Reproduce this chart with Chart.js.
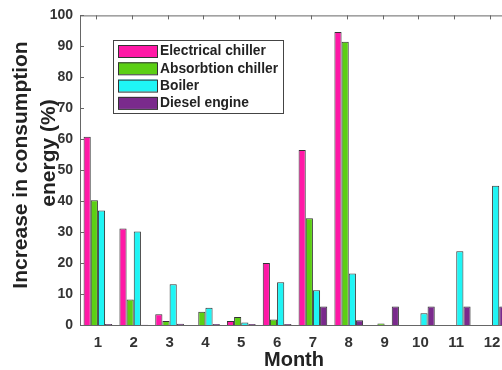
<!DOCTYPE html>
<html>

<head>
    <meta charset="utf-8" />
    <title>Increase in consumption energy</title>
    <script src="https://cdn.jsdelivr.net/npm/chart.js"></script>
    <style>
        html, body { margin: 0; padding: 0; background: #fff; overflow: hidden; }
        #wrap { width: 520px; height: 370px; }
    </style>
</head>

<body>
    <div id="wrap"><canvas id="myChart" width="520" height="370"></canvas></div>

    <script type="text/javascript">

        // chart data
        const months = ["1", "2", "3", "4", "5", "6", "7", "8", "9", "10", "11", "12"];
        const electricalChiller = [60.8, 31.2, 3.5, 0, 1.3, 20, 56.5, 94.6, 0, 0, 0, 0];
        const absorptionChiller = [40.3, 8.2, 1.3, 4.3, 2.6, 1.8, 34.5, 91.5, 0.5, 0, 0, 0];
        const boiler = [37, 30.2, 13.2, 5.6, 0.8, 13.8, 11.2, 16.6, 0, 3.8, 23.8, 45];
        const dieselEngine = [0.3, 0.1, 0.4, 0.3, 0.3, 0.3, 6, 1.5, 6, 6, 6, 6];
        const yTicks = [0, 10, 20, 30, 40, 50, 60, 70, 80, 90, 100];

        const seriesNames = ["Electrical chiller", "Absorbtion chiller", "Boiler", "Diesel engine"];
        const seriesColors = ["#ff18a6", "#5ccf14", "#1ff5f5", "#7a2a8c"];

        const FONT = "Liberation Sans, Arial, sans-serif";
        const INK = "#333333";

        // axis box, inward ticks, axis titles and the boxed legend
        const decorations = {
            id: "decorations",
            afterDatasetsDraw(chart) {
                const { ctx, chartArea: a, scales } = chart;
                ctx.save();
                ctx.strokeStyle = "#666";
                ctx.lineWidth = 1;
                ctx.beginPath();
                ctx.moveTo(a.left + 0.5, a.bottom);
                ctx.lineTo(a.left + 0.5, a.top + 0.5);
                ctx.lineTo(a.right, a.top + 0.5);
                ctx.moveTo(a.left, a.bottom + 0.5);
                ctx.lineTo(a.right, a.bottom + 0.5);
                yTicks.forEach(v => {
                    const y = Math.round(scales.y.getPixelForValue(v)) + 0.5;
                    ctx.moveTo(a.left, y);
                    ctx.lineTo(a.left + 4, y);
                });
                months.forEach((m, i) => {
                    const x = Math.round(scales.x.getPixelForValue(i)) - 1.5;
                    ctx.moveTo(x, a.top);
                    ctx.lineTo(x, a.top + 4);
                });
                ctx.stroke();

                // axis titles
                ctx.fillStyle = "#222";
                ctx.textAlign = "center";
                ctx.textBaseline = "middle";
                ctx.font = "bold 20px " + FONT;
                ctx.fillText("Month", 294, 360);
                ctx.font = "bold 21px " + FONT;
                ctx.save();
                ctx.translate(21, 165);
                ctx.rotate(-Math.PI / 2);
                ctx.fillText("Increase in consumption", 0, 0);
                ctx.restore();
                ctx.save();
                ctx.translate(49, 153);
                ctx.rotate(-Math.PI / 2);
                ctx.fillText("energy (%)", 0, 0);
                ctx.restore();

                // legend
                const lx = 113, ly = 40, lw = 170, lh = 73;
                ctx.fillStyle = "#fff";
                ctx.fillRect(lx, ly, lw, lh);
                ctx.strokeStyle = "#444";
                ctx.strokeRect(lx + 0.5, ly + 0.5, lw, lh);
                ctx.font = "bold 13.8px " + FONT;
                ctx.textAlign = "left";
                chart.data.datasets.forEach((ds, i) => {
                    const y = 45 + i * 17.3;
                    ctx.fillStyle = ds.backgroundColor;
                    ctx.fillRect(118, y, 39, 12);
                    ctx.strokeStyle = "#333";
                    ctx.strokeRect(118.5, y + 0.5, 39, 12);
                    ctx.fillStyle = "#222";
                    ctx.fillText(ds.label, 160, y + 6.5);
                });
                ctx.restore();
            }
        };

        const makeSet = (label, values, color) => ({
            label: label,
            data: values,
            backgroundColor: color,
            borderColor: "#333",
            borderWidth: 1,
            borderSkipped: "bottom",
            categoryPercentage: 0.8,
            barPercentage: 1.0
        });

        const ctx = document.getElementById("myChart");
        new Chart(ctx, {
            type: "bar",
            data: {
                labels: months,
                datasets: [
                    makeSet(seriesNames[0], electricalChiller, seriesColors[0]),
                    makeSet(seriesNames[1], absorptionChiller, seriesColors[1]),
                    makeSet(seriesNames[2], boiler, seriesColors[2]),
                    makeSet(seriesNames[3], dieselEngine, seriesColors[3])
                ]
            },
            options: {
                responsive: false,
                animation: false,
                layout: { padding: { top: 13, right: 10, left: 0, bottom: 0 } },
                plugins: { legend: { display: false }, tooltip: { enabled: false } },
                scales: {
                    x: {
                        offset: true,
                        grid: { display: false, drawTicks: false },
                        border: { display: false },
                        ticks: {
                            color: INK,
                            font: { family: FONT, size: 15, weight: "bold" },
                            padding: 9
                        },
                        afterFit(scale) { scale.height = 45; }
                    },
                    y: {
                        min: 0,
                        max: 100,
                        grid: { display: false, drawTicks: false },
                        border: { display: false },
                        afterBuildTicks(scale) { scale.ticks = yTicks.map(v => ({ value: v })); },
                        ticks: {
                            color: INK,
                            font: { family: FONT, size: 14, weight: "bold" },
                            padding: 7
                        },
                        afterFit(scale) { scale.width = 80; }
                    }
                }
            },
            plugins: [decorations]
        });

    </script>

</body>

</html>
